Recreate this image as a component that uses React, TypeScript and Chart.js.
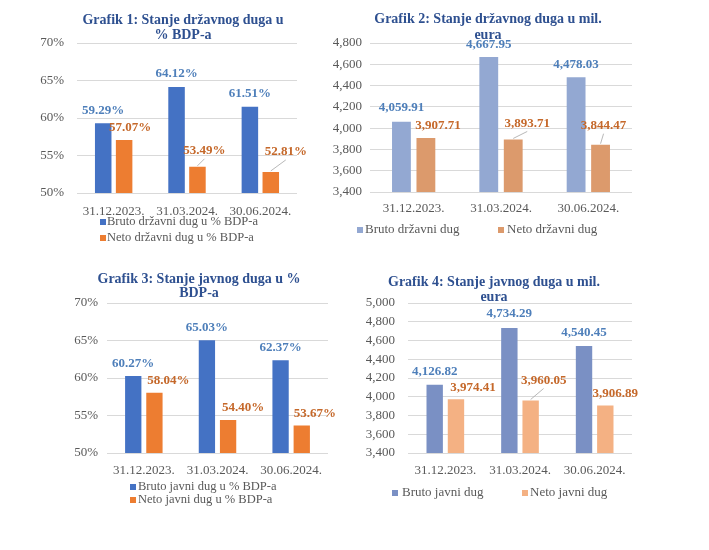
import React, { useEffect, useRef } from 'react';
import { Chart, registerables } from 'chart.js';

Chart.register(...registerables);

// ---------- data ----------
const categories = ['31.12.2023.', '31.03.2024.', '30.06.2024.'];

const brutoDrzavniPct = [59.29, 64.12, 61.51];
const netoDrzavniPct = [57.07, 53.49, 52.81];

const brutoDrzavniEur = [4059.91, 4667.95, 4478.03];
const netoDrzavniEur = [3907.71, 3893.71, 3844.47];

const brutoJavniPct = [60.27, 65.03, 62.37];
const netoJavniPct = [58.04, 54.4, 53.67];

const brutoJavniEur = [4126.82, 4734.29, 4540.45];
const netoJavniEur = [3974.41, 3960.05, 3906.89];

const titles = [
  ['Grafik 1: Stanje državnog duga u', '% BDP-a'],
  ['Grafik 2: Stanje državnog duga u mil.', 'eura'],
  ['Grafik 3: Stanje javnog duga u %', 'BDP-a'],
  ['Grafik 4: Stanje javnog duga u mil.', 'eura'],
];

const legendLabels = [
  ['Bruto državni dug u % BDP-a', 'Neto državni dug u % BDP-a'],
  ['Bruto državni dug', 'Neto državni dug'],
  ['Bruto javni dug u % BDP-a', 'Neto javni dug u % BDP-a'],
  ['Bruto javni dug', 'Neto javni dug'],
];

// ---------- styles ----------
const FONT = "'Liberation Serif', 'Times New Roman', serif";
const TITLE_COLOR = '#2E5090';
const TEXT_COLOR = '#595959';
const GRID_COLOR = '#D9D9D9';
const BLUE_LABEL = '#4E7FBA';
const ORANGE_LABEL = '#C5682A';

const fmtPct = (v: number) => v.toFixed(2) + '%';
const fmtPctTick = (v: number) => v + '%';
const fmtEur = (v: number) =>
  v.toLocaleString('en-US', { minimumFractionDigits: 2, maximumFractionDigits: 2 });
const fmtEurTick = (v: number) => v.toLocaleString('en-US');

type Nudge = { dx: number; dy: number; leader?: boolean };

interface Panel {
  left: number; top: number; width: number; height: number;
  title: string[]; titleX: number; titleY: number[];
  labels: string[]; data: number[][]; colors: string[];
  yMin: number; yMax: number; yStep: number;
  fmtTick: (v: number) => string; fmtLabel: (v: number) => string;
  padding: { left: number; right: number; top: number; bottom: number };
  yAxisWidth: number; yTickPad: number; xTickPad: number;
  barPct: number; catPct: number;
  legendPos: { sx: number; sy: number; tx: number }[];
  legendFont: number;
  nudges: Nudge[][];
}

const panels: Panel[] = [
  {
    left: 0, top: 0, width: 354, height: 258,
    title: titles[0], titleX: 183, titleY: [20, 35],
    labels: legendLabels[0], data: [brutoDrzavniPct, netoDrzavniPct],
    colors: ['#4472C4', '#ED7D31'],
    yMin: 50, yMax: 70, yStep: 5, fmtTick: fmtPctTick, fmtLabel: fmtPct,
    padding: { left: 37, right: 57, top: 43, bottom: 37 },
    yAxisWidth: 40, yTickPad: 13, xTickPad: 11,
    barPct: 0.79, catPct: 0.57,
    legendPos: [{ sx: 100, sy: 222, tx: 107 }, { sx: 100, sy: 238, tx: 107 }],
    legendFont: 12.5,
    nudges: [
      [{ dx: 0, dy: 13 }, { dx: 0, dy: 13 }, { dx: 0, dy: 13 }],
      [{ dx: 6, dy: 12 }, { dx: 7, dy: 16, leader: true }, { dx: 15, dy: 20, leader: true }],
    ],
  },
  {
    left: 320, top: 0, width: 389, height: 258,
    title: titles[1], titleX: 168, titleY: [19, 35],
    labels: legendLabels[1], data: [brutoDrzavniEur, netoDrzavniEur],
    colors: ['#93A8D2', '#DC9A6C'],
    yMin: 3400, yMax: 4800, yStep: 200, fmtTick: fmtEurTick, fmtLabel: fmtEur,
    padding: { left: 10, right: 77, top: 43, bottom: 38 },
    yAxisWidth: 40, yTickPad: 8, xTickPad: 9,
    barPct: 0.77, catPct: 0.56,
    legendPos: [{ sx: 37, sy: 230, tx: 45 }, { sx: 178, sy: 230, tx: 187 }],
    legendFont: 13,
    nudges: [
      [{ dx: 0, dy: 14 }, { dx: 0, dy: 12 }, { dx: 0, dy: 13 }],
      [{ dx: 12, dy: 12 }, { dx: 14, dy: 16, leader: true }, { dx: 3, dy: 19, leader: true }],
    ],
  },
  {
    left: 0, top: 258, width: 354, height: 292,
    title: titles[2], titleX: 199, titleY: [21, 35],
    labels: legendLabels[2], data: [brutoJavniPct, netoJavniPct],
    colors: ['#4472C4', '#ED7D31'],
    yMin: 50, yMax: 70, yStep: 5, fmtTick: fmtPctTick, fmtLabel: fmtPct,
    padding: { left: 67, right: 26, top: 45, bottom: 69 },
    yAxisWidth: 40, yTickPad: 9, xTickPad: 10,
    barPct: 0.77, catPct: 0.575,
    legendPos: [{ sx: 130, sy: 229, tx: 138 }, { sx: 130, sy: 242, tx: 138 }],
    legendFont: 12.5,
    nudges: [
      [{ dx: 0, dy: 12 }, { dx: 0, dy: 13 }, { dx: 0, dy: 13 }],
      [{ dx: 14, dy: 12 }, { dx: 15, dy: 12 }, { dx: 13, dy: 12 }],
    ],
  },
  {
    left: 340, top: 258, width: 369, height: 292,
    title: titles[3], titleX: 154, titleY: [24, 39],
    labels: legendLabels[3], data: [brutoJavniEur, netoJavniEur],
    colors: ['#7A90C4', '#F4B183'],
    yMin: 3400, yMax: 5000, yStep: 200, fmtTick: fmtEurTick, fmtLabel: fmtEur,
    padding: { left: 23, right: 77, top: 45, bottom: 69 },
    yAxisWidth: 45, yTickPad: 13, xTickPad: 10,
    barPct: 0.77, catPct: 0.57,
    legendPos: [{ sx: 52, sy: 235, tx: 62 }, { sx: 182, sy: 235, tx: 190 }],
    legendFont: 13,
    nudges: [
      [{ dx: 0, dy: 13 }, { dx: 0, dy: 14 }, { dx: 0, dy: 13 }],
      [{ dx: 17, dy: 12 }, { dx: 13, dy: 20, leader: true }, { dx: 10, dy: 12 }],
    ],
  },
];

function PanelChart({ p }: { p: Panel }) {
  const ref = useRef<HTMLCanvasElement | null>(null);

  useEffect(() => {
    if (!ref.current) return;

    const decor = {
      id: 'decor',
      afterDatasetsDraw(chart: any) {
        const ctx = chart.ctx;
        ctx.save();
        ctx.font = `bold 13px ${FONT}`;
        ctx.textAlign = 'center';
        ctx.textBaseline = 'middle';
        p.data.forEach((series, di) => {
          const meta = chart.getDatasetMeta(di);
          meta.data.forEach((bar: any, i: number) => {
            const n = p.nudges[di][i];
            const lx = bar.x + n.dx;
            const ly = bar.y - n.dy;
            if (n.leader) {
              ctx.strokeStyle = '#A6A6A6';
              ctx.lineWidth = 0.8;
              ctx.beginPath();
              ctx.moveTo(bar.x, bar.y - 1);
              ctx.lineTo(lx, ly + 8);
              ctx.stroke();
            }
            ctx.fillStyle = di === 0 ? BLUE_LABEL : ORANGE_LABEL;
            ctx.fillText(p.fmtLabel(series[i]), lx, ly);
          });
        });
        ctx.restore();
      },
      afterDraw(chart: any) {
        const ctx = chart.ctx;
        ctx.save();
        // title
        ctx.font = `bold 14px ${FONT}`;
        ctx.fillStyle = TITLE_COLOR;
        ctx.textAlign = 'center';
        ctx.textBaseline = 'middle';
        p.title.forEach((t, i) => ctx.fillText(t, p.titleX, p.titleY[i]));
        // legend
        ctx.font = `${p.legendFont}px ${FONT}`;
        ctx.textAlign = 'left';
        p.labels.forEach((lab, i) => {
          const pos = p.legendPos[i];
          ctx.fillStyle = p.colors[i];
          ctx.fillRect(pos.sx, pos.sy - 3, 6, 6);
          ctx.fillStyle = TEXT_COLOR;
          ctx.fillText(lab, pos.tx, pos.sy);
        });
        ctx.restore();
      },
    };

    const chart = new Chart(ref.current, {
      type: 'bar',
      data: {
        labels: categories,
        datasets: p.data.map((d, i) => ({
          label: p.labels[i],
          data: d,
          backgroundColor: p.colors[i],
          borderWidth: 0,
          barPercentage: p.barPct,
          categoryPercentage: p.catPct,
        })),
      },
      options: {
        responsive: false,
        maintainAspectRatio: false,
        animation: false,
        devicePixelRatio: 1,
        layout: { padding: p.padding },
        plugins: {
          legend: { display: false },
          title: { display: false },
          tooltip: { enabled: false },
        },
        scales: {
          x: {
            grid: { display: false, drawTicks: false },
            border: { display: false },
            ticks: {
              color: TEXT_COLOR,
              font: { family: FONT, size: 13 },
              padding: p.xTickPad,
              maxRotation: 0,
              autoSkip: false,
            },
            afterFit: (scale: any) => { scale.height = 28; },
          },
          y: {
            min: p.yMin,
            max: p.yMax,
            grid: { color: GRID_COLOR, lineWidth: 1, drawTicks: false },
            border: { display: false },
            ticks: {
              stepSize: p.yStep,
              autoSkip: false,
              color: TEXT_COLOR,
              font: { family: FONT, size: 13 },
              padding: p.yTickPad,
              callback: (v: any) => p.fmtTick(Number(v)),
            },
            afterFit: (scale: any) => { scale.width = p.yAxisWidth; },
          },
        },
      },
      plugins: [decor],
    } as any);

    return () => chart.destroy();
  }, [p]);

  return (
    <canvas
      ref={ref}
      width={p.width}
      height={p.height}
      style={{
        position: 'absolute',
        left: p.left,
        top: p.top,
        width: p.width,
        height: p.height,
      }}
    />
  );
}

export default function App() {
  return (
    <div
      style={{
        position: 'absolute',
        left: 0,
        top: 0,
        width: 709,
        height: 550,
        background: '#ffffff',
        overflow: 'hidden',
      }}
    >
      {panels.map((p, i) => (
        <PanelChart key={i} p={p} />
      ))}
    </div>
  );
}
